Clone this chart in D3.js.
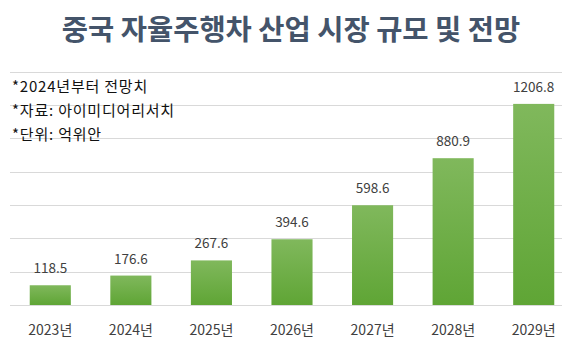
<!DOCTYPE html>
<html>
<head>
<meta charset="utf-8">
<script src="https://cdn.jsdelivr.net/npm/d3@7"></script>
<style>
  html, body { margin: 0; padding: 0; background: #fff; }
  svg { display: block; }
</style>
</head>
<body>
<svg id="chart" width="562" height="340"></svg>
<script>
const title = "중국 자율주행차 산업 시장 규모 및 전망";
const notes = ["*2024년부터 전망치", "*자료: 아이미디어리서치", "*단위: 억위안"];
const categories = ["2023년", "2024년", "2025년", "2026년", "2027년", "2028년", "2029년"];
const values = [118.5, 176.6, 267.6, 394.6, 598.6, 880.9, 1206.8];
const gridTicks = [0, 200, 400, 600, 800, 1000, 1200, 1400];

const svg = d3.select("#chart");
const font = "'Noto Sans CJK KR', 'Noto Sans', sans-serif";

const x = d3.scaleBand().domain(categories).range([10, 574]).paddingInner(0.49).paddingOuter(0.245);
const y = d3.scaleLinear().domain([0, 1400]).range([305, 71.7]);

const defs = svg.append("defs");
const grad = defs.append("linearGradient").attr("id", "barGrad")
  .attr("x1", 0).attr("y1", 0).attr("x2", 0).attr("y2", 1);
grad.append("stop").attr("offset", "0%").attr("stop-color", "#80b85c");
grad.append("stop").attr("offset", "100%").attr("stop-color", "#5fa535");

// gridlines
svg.append("g").selectAll("line").data(gridTicks).join("line")
  .attr("x1", 10).attr("x2", 562)
  .attr("y1", d => Math.round(y(d)) + 0.5).attr("y2", d => Math.round(y(d)) + 0.5)
  .attr("stroke", "#d9d9d9").attr("stroke-width", 1);

// title
svg.append("text").attr("x", 291).attr("y", 40)
  .attr("text-anchor", "middle")
  .attr("font-family", font).attr("font-weight", "bold").attr("font-size", 28.5)
  .attr("fill", "#44546a").text(title);

// notes
svg.append("g").selectAll("text").data(notes).join("text")
  .attr("x", 12).attr("y", (d, i) => 92 + i * 24)
  .attr("font-family", font).attr("font-size", 15)
  .attr("letter-spacing", "0.8px")
  .attr("fill", "#111").text(d => d);

// bars
svg.append("g").selectAll("rect").data(values).join("rect")
  .attr("x", (d, i) => x(categories[i]))
  .attr("width", x.bandwidth())
  .attr("y", d => y(d))
  .attr("height", d => y(0) - y(d))
  .attr("fill", "url(#barGrad)");

// value labels
svg.append("g").selectAll("text").data(values).join("text")
  .attr("x", (d, i) => x(categories[i]) + x.bandwidth() / 2)
  .attr("y", d => y(d) - 12)
  .attr("text-anchor", "middle")
  .attr("font-family", font).attr("font-size", 13.5)
  .attr("fill", "#404040").text(d => d.toFixed(1));

// x axis labels
const xAxis = d3.axisBottom(x).tickSize(0).tickPadding(0);
const gx = svg.append("g").attr("transform", "translate(0,322)").call(xAxis);
gx.select(".domain").remove();
gx.selectAll("text")
  .attr("font-family", font).attr("font-size", 14)
  .attr("fill", "#404040").attr("dy", "0.9em");
</script>
</body>
</html>
